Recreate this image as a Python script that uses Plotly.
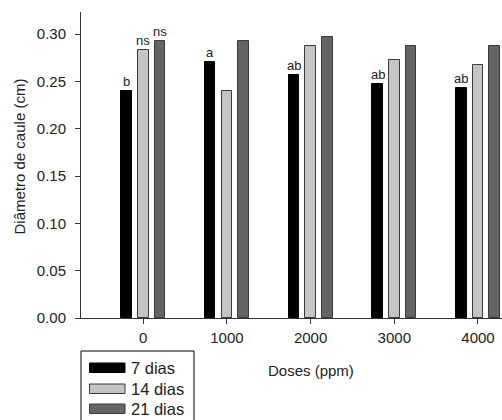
import plotly.graph_objects as go

# Stem diameter by dose and evaluation time
doses = [0, 1000, 2000, 3000, 4000]
series_names = ["7 dias", "14 dias", "21 dias"]
dias_7 = [0.240, 0.270, 0.257, 0.247, 0.243]
dias_14 = [0.283, 0.240, 0.287, 0.273, 0.267]
dias_21 = [0.293, 0.293, 0.297, 0.287, 0.287]
labels_7 = ["b", "a", "ab", "ab", "ab"]
labels_14 = ["ns", "", "", "", ""]
labels_21 = ["ns", "", "", "", ""]

values = [dias_7, dias_14, dias_21]
letters = [labels_7, labels_14, labels_21]
fills = ["#000000", "#c4c4c4", "#646464"]
edges = ["#000000", "#3a3a3a", "#3a3a3a"]
offsets = [-200, 0, 200]
bar_w = 126

W, H = 502, 420
L, R, T, B = 81, 0, 12, 102
PW, PH = W - L - R, H - T - B

def px_x(x):
    return (x - L) / PW

def px_y(y):
    return (H - B - y) / PH

FONT = "Liberation Sans, Arial, sans-serif"
INK = "#222"

fig = go.Figure()
for name, vals, fill, edge, off in zip(series_names, values, fills, edges, offsets):
    fig.add_trace(go.Bar(
        x=[d + off for d in doses], y=vals, width=bar_w, name=name,
        marker=dict(color=fill, line=dict(color=edge, width=1)),
        showlegend=False,
    ))

annotations = []
for vals, labs, off in zip(values, letters, offsets):
    for d, v, t in zip(doses, vals, labs):
        if t:
            annotations.append(dict(
                x=d + off, y=v, text=t, showarrow=False, xref="x", yref="y",
                xanchor="center", yanchor="bottom", yshift=0,
                font=dict(family=FONT, size=13, color=INK)))

annotations.append(dict(
    x=px_x(18.5), y=px_y(157), xref="paper", yref="paper",
    xanchor="center", yanchor="middle",
    text="Diâmetro de caule (cm)", textangle=-90, showarrow=False,
    font=dict(family=FONT, size=15, color=INK)))
annotations.append(dict(
    x=px_x(311), y=px_y(370), xref="paper", yref="paper",
    xanchor="center", yanchor="middle",
    text="Doses (ppm)", showarrow=False,
    font=dict(family=FONT, size=15, color=INK)))

# Hand-built legend with wide swatches
shapes = [dict(type="rect", xref="paper", yref="paper",
               x0=px_x(81), x1=px_x(194), y0=px_y(351), y1=px_y(440),
               line=dict(color="#000", width=1), fillcolor="white", layer="above")]
legend_rows = [368, 389, 409]
for name, fill, edge, yc in zip(series_names, fills, edges, legend_rows):
    shapes.append(dict(type="rect", xref="paper", yref="paper",
                       x0=px_x(89.5), x1=px_x(125), y0=px_y(yc - 5), y1=px_y(yc + 4.5),
                       line=dict(color=edge, width=1), fillcolor=fill, layer="above"))
    annotations.append(dict(x=px_x(128.5), y=px_y(yc), xref="paper", yref="paper",
                            text=name, showarrow=False, xanchor="left", yanchor="middle",
                            font=dict(family=FONT, size=16.5, color=INK)))

fig.update_layout(
    width=W, height=H, margin=dict(l=L, r=R, t=T, b=B),
    plot_bgcolor="white", paper_bgcolor="white",
    barmode="overlay", bargap=0,
    annotations=annotations, shapes=shapes,
    font=dict(family=FONT, size=15, color=INK),
    xaxis=dict(range=[-744, 4287], tickvals=doses, ticktext=[str(d) for d in doses],
               ticks="outside", ticklen=5, tickcolor="#333", showline=True,
               linecolor="#333", linewidth=1, showgrid=False, zeroline=False,
               ticklabelstandoff=1,
               tickfont=dict(family=FONT, size=15, color=INK)),
    yaxis=dict(range=[0, 0.3233], tickvals=[0, 0.05, 0.10, 0.15, 0.20, 0.25, 0.30],
               tickformat=".2f", ticks="outside", ticklen=5, tickcolor="#333",
               showline=True, linecolor="#333", linewidth=1, showgrid=False,
               zeroline=False, ticklabelstandoff=6,
               tickfont=dict(family=FONT, size=15, color=INK)),
)

fig.write_html("out.html")
